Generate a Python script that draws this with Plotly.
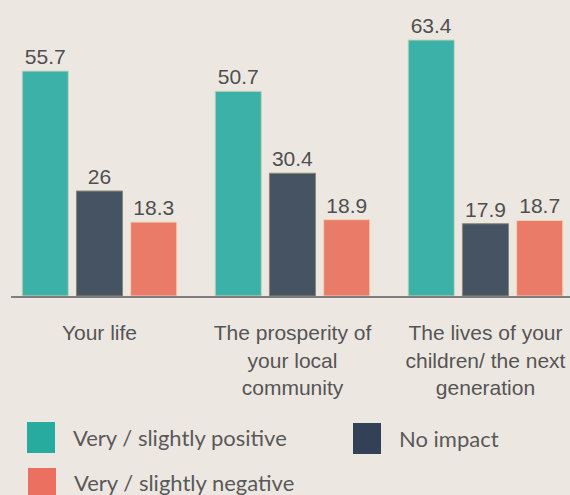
import plotly.graph_objects as go

categories = ["Your life", "The prosperity of<br>your local<br>community", "The lives of your<br>children/ the next<br>generation"]
series_names = ["Very / slightly positive", "No impact", "Very / slightly negative"]
positive = [55.7, 50.7, 63.4]
no_impact = [26, 30.4, 17.9]
negative = [18.3, 18.9, 18.7]

bar_colors = ["#3bb1a7", "#465363", "#eb7b69"]
outline_colors = ["#c9d3b8", "#8a8a72", "#eed2b0"]
legend_colors = ["#27ab9f", "#334157", "#ec7060"]
bg = "#ede7e1"

W, H = 570, 495
L, R, T, B = 11, 0, 10, 199
pw, ph = W - L - R, H - T - B

fig = go.Figure()
for name, vals, col, oc in zip(series_names, [positive, no_impact, negative], bar_colors, outline_colors):
    fig.add_trace(go.Bar(
        x=list(range(len(categories))), y=vals, name=name,
        marker=dict(color=col, line=dict(color=oc, width=1)),
        text=[f"{v:g}" for v in vals], textposition="outside",
        textfont=dict(family="Liberation Sans, Arial", size=21, color="#4f4f4f"),
        cliponaxis=False, showlegend=False,
    ))

def px_x(p):
    return (p - L) / pw

def px_y(p):
    return (H - B - p) / ph

legend_items = [
    (series_names[0], legend_colors[0], 27, 422),
    (series_names[1], legend_colors[1], 353, 423),
    (series_names[2], legend_colors[2], 28, 468),
]
shapes = []
annotations = []
for name, col, x0, y0 in legend_items:
    shapes.append(dict(type="rect", xref="paper", yref="paper",
                       x0=px_x(x0), x1=px_x(x0 + 28), y0=px_y(y0), y1=px_y(y0 + 31),
                       fillcolor=col, line=dict(width=0)))
    annotations.append(dict(xref="paper", yref="paper", x=px_x(x0 + 44), y=px_y(y0 + 15),
                            text=name, showarrow=False, xanchor="left", yanchor="middle",
                            font=dict(family="Lato, Carlito, sans-serif", size=22, color="#595959")))

fig.update_layout(
    width=W, height=H,
    margin=dict(l=L, r=R, t=T, b=B, pad=0),
    paper_bgcolor=bg, plot_bgcolor=bg,
    barmode="group", bargap=0.157, bargroupgap=0.15,
    shapes=shapes, annotations=annotations,
    xaxis=dict(
        range=[-0.4585, 2.438], tickmode="array", tickvals=list(range(len(categories))),
        ticktext=categories, showgrid=False, zeroline=False,
        showline=True, linecolor="#7f7f7f", linewidth=2,
        ticks="outside", ticklen=17, tickcolor="rgba(0,0,0,0)",
        tickfont=dict(family="Liberation Sans, Arial", size=21, color="#555555"),
    ),
    yaxis=dict(range=[0, 70.83], visible=False, showgrid=False, zeroline=False),
)

fig.write_html("out.html", config={"displayModeBar": False},
               post_script="document.body.style.margin='0';document.body.style.overflow='hidden';")
